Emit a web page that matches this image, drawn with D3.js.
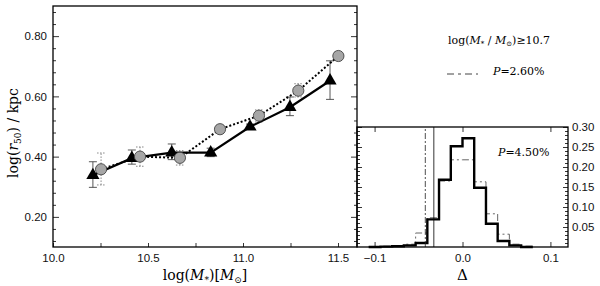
<!DOCTYPE html>
<html>
<head>
<meta charset="utf-8">
<script src="https://cdn.jsdelivr.net/npm/d3@7"></script>
<style>
  body { margin: 0; background: #fff; }
  svg { display: block; }
  .tick text { font-family: "Liberation Sans", Arial, sans-serif; font-size: 11.5px; fill: #111; }
  .serif { font-family: "DejaVu Serif", "Liberation Serif", serif; fill: #000; }
</style>
</head>
<body>
<svg id="chart" width="600" height="286"></svg>
<script>
// left panel: size-mass relation
const massTri = [10.21, 10.415, 10.625, 10.83, 11.037, 11.247, 11.458];
const r50Tri  = [0.338, 0.395, 0.413, 0.413, 0.499, 0.564, 0.652];
const loTri   = [0.298, 0.375, 0.390, 0.400, 0.490, 0.536, 0.590];
const hiTri   = [0.383, 0.422, 0.442, 0.428, 0.508, 0.598, 0.718];

const massCir = [10.253, 10.458, 10.668, 10.879, 11.084, 11.291, 11.502];
const r50Cir  = [0.358, 0.400, 0.396, 0.491, 0.536, 0.619, 0.734];
const loCir   = [0.306, 0.368, 0.372, 0.478, 0.515, 0.598, 0.720];
const hiCir   = [0.412, 0.432, 0.420, 0.504, 0.555, 0.642, 0.748];

// right panel: histogram of Delta
const binEdges = [-0.1067, -0.0933, -0.08, -0.0667, -0.0533, -0.04, -0.0267, -0.0133,
                  0, 0.0133, 0.0267, 0.04, 0.0533, 0.0667, 0.08];
const histSolid  = [0.0, 0.001, 0.002, 0.004, 0.010, 0.069, 0.168, 0.252, 0.272, 0.148, 0.058, 0.015, 0.004, 0.0];
const histDashed = [0.001, 0.002, 0.003, 0.007, 0.035, 0.073, 0.165, 0.218, 0.218, 0.163, 0.083, 0.032, 0.007, 0.002];
const vlineDashDot = -0.0423;
const vlineSolid = -0.0326;

const xTicksL = [10, 10.25, 10.5, 10.75, 11, 11.25, 11.5];
const yTicksL = d3.range(3, 23).map(i => +(i * 0.04).toFixed(2));  // 0.12 ... 0.88
const yTicksR = d3.range(1, 31).map(i => +(i * 0.01).toFixed(2));  // 0.01 ... 0.30
const xTicksR = [-0.1, 0, 0.1];

const svg = d3.select("#chart");

const x1 = d3.scaleLinear().domain([10, 11.6]).range([53, 357]);
const y1 = d3.scaleLinear().domain([0.1, 0.9]).range([247, 6]);
const x2 = d3.scaleLinear().domain([-0.12, 0.12]).range([357, 568]);
const y2 = d3.scaleLinear().domain([0, 0.30]).range([247, 127]);

const isMajor = (v, step) => Math.abs(v / step - Math.round(v / step)) < 1e-6;

function styleAxis(g, majorStep, majorLen, minorLen, sign) {
  g.select(".domain").remove();
  g.selectAll(".tick line")
    .attr("stroke", "#000").attr("stroke-width", 0.8)
    .each(function(d) {
      const len = (isMajor(d, majorStep) ? majorLen : minorLen) * sign;
      const line = d3.select(this);
      if (line.attr("x2") !== null && +line.attr("x2") !== 0) line.attr("x2", len);
      else line.attr("y2", len);
    });
}

// ---- left panel axes ----
svg.append("g")
  .attr("transform", `translate(0,${y1.range()[0]})`)
  .call(d3.axisBottom(x1).tickValues(xTicksL).tickSize(-4).tickPadding(7)
    .tickFormat(d => isMajor(d, 0.5) ? d3.format(".1f")(d) : ""))
  .call(g => g.select(".domain").remove())
  .call(g => g.selectAll(".tick line").attr("stroke", "#000").attr("stroke-width", 0.8));

svg.append("g")
  .attr("transform", `translate(${x1.range()[0]},0)`)
  .call(d3.axisLeft(y1).tickValues(yTicksL).tickSize(-3).tickPadding(6)
    .tickFormat(d => isMajor(d, 0.2) ? d3.format(".2f")(d) : ""))
  .call(g => styleAxis(g, 0.2, 6, 3, 1));

svg.append("g")
  .attr("transform", `translate(${x1.range()[1]},0)`)
  .call(d3.axisRight(y1).tickValues(yTicksL).tickSize(-3).tickFormat(""))
  .call(g => styleAxis(g, 0.2, 6, 3, -1));

// ---- histogram axes ----
svg.append("g")
  .attr("transform", `translate(${x2.range()[0]},0)`)
  .call(d3.axisRight(y2).tickValues(yTicksR).tickSize(3).tickFormat(""))
  .call(g => styleAxis(g, 0.05, 5, 3, 1));

svg.append("g")
  .attr("transform", `translate(${x2.range()[1]},0)`)
  .call(d3.axisRight(y2).tickValues(yTicksR).tickSize(-3).tickPadding(4)
    .tickFormat(d => isMajor(d, 0.05) ? d3.format(".2f")(d) : ""))
  .call(g => styleAxis(g, 0.05, 5, 3, -1))
  .call(g => g.selectAll(".tick text").attr("x", 4).attr("text-anchor", "start"));

svg.append("g")
  .attr("transform", `translate(0,${y2.range()[0]})`)
  .call(d3.axisBottom(x2).tickValues(xTicksR).tickSize(-5).tickPadding(7)
    .tickFormat(d => d === 0 ? "0.0" : d3.format(".1f")(d).replace("-", "\u2212")))
  .call(g => g.select(".domain").remove())
  .call(g => g.selectAll(".tick line").attr("stroke", "#000").attr("stroke-width", 0.8));

svg.append("g")
  .attr("transform", `translate(0,${y2.range()[1]})`)
  .call(d3.axisTop(x2).tickValues(xTicksR).tickSize(-5).tickFormat(""))
  .call(g => g.select(".domain").remove())
  .call(g => g.selectAll(".tick line").attr("stroke", "#000").attr("stroke-width", 0.8));

// ---- histogram curves ----
function stepPoints(vals) {
  const pts = [];
  vals.forEach((v, i) => { pts.push([binEdges[i], v]); pts.push([binEdges[i + 1], v]); });
  return pts;
}
const stepLine = d3.line().x(d => x2(d[0])).y(d => y2(d[1]));

svg.append("path")
  .attr("d", stepLine(stepPoints(histDashed)))
  .attr("fill", "none").attr("stroke", "#666").attr("stroke-width", 1)
  .attr("stroke-dasharray", "7,3,2,3");

svg.append("path")
  .attr("d", stepLine(stepPoints(histSolid)))
  .attr("fill", "none").attr("stroke", "#000").attr("stroke-width", 2.4)
  .attr("stroke-linejoin", "miter");

svg.append("line")
  .attr("x1", x2(vlineDashDot)).attr("x2", x2(vlineDashDot))
  .attr("y1", y2.range()[0]).attr("y2", y2.range()[1])
  .attr("stroke", "#222").attr("stroke-width", 0.8).attr("stroke-dasharray", "6,2,2,2");

svg.append("line")
  .attr("x1", x2(vlineSolid)).attr("x2", x2(vlineSolid))
  .attr("y1", y2.range()[0]).attr("y2", y2.range()[1])
  .attr("stroke", "#000").attr("stroke-width", 0.8);

// ---- left panel data ----
const tri = massTri.map((m, i) => ({ m, r: r50Tri[i], lo: loTri[i], hi: hiTri[i] }));
const cir = massCir.map((m, i) => ({ m, r: r50Cir[i], lo: loCir[i], hi: hiCir[i] }));

function errorBars(data, stroke, dash, width) {
  const g = svg.append("g").attr("stroke", stroke).attr("stroke-width", width)
    .attr("stroke-dasharray", dash);
  g.selectAll(".eb").data(data).join("path")
    .attr("fill", "none")
    .attr("d", d => {
      const x = x1(d.m), a = y1(d.lo), b = y1(d.hi);
      return `M${x - 4},${a}H${x + 4}M${x},${a}V${b}M${x - 4},${b}H${x + 4}`;
    });
}
errorBars(tri, "#444", null, 0.9);
errorBars(cir, "#888", "1.5,1.5", 1);

const pline = d3.line().x(d => x1(d.m)).y(d => y1(d.r));
svg.append("path").attr("d", pline(cir))
  .attr("fill", "none").attr("stroke", "#000").attr("stroke-width", 2)
  .attr("stroke-dasharray", "2,2");
svg.append("path").attr("d", pline(tri))
  .attr("fill", "none").attr("stroke", "#000").attr("stroke-width", 2.2);

svg.selectAll(".tri").data(tri).join("path")
  .attr("transform", d => `translate(${x1(d.m)},${y1(d.r)})`)
  .attr("d", d3.symbol(d3.symbolTriangle, 75))
  .attr("fill", "#000");

svg.selectAll(".cir").data(cir).join("circle")
  .attr("cx", d => x1(d.m)).attr("cy", d => y1(d.r)).attr("r", 5.6)
  .attr("fill", "#a6a6a6").attr("stroke", "#444").attr("stroke-width", 0.9);

// ---- frames ----
svg.append("rect")
  .attr("x", x1.range()[0]).attr("y", y1.range()[1])
  .attr("width", x1.range()[1] - x1.range()[0]).attr("height", y1.range()[0] - y1.range()[1])
  .attr("fill", "none").attr("stroke", "#000").attr("stroke-width", 1.3);
svg.append("rect")
  .attr("x", x2.range()[0]).attr("y", y2.range()[1])
  .attr("width", x2.range()[1] - x2.range()[0]).attr("height", y2.range()[0] - y2.range()[1])
  .attr("fill", "none").attr("stroke", "#000").attr("stroke-width", 1.3);

// ---- titles and annotations ----
const xt = svg.append("text").attr("class", "serif").attr("font-size", 14)
  .attr("x", 205).attr("y", 280).attr("text-anchor", "middle");
xt.append("tspan").text("log(");
xt.append("tspan").attr("font-style", "italic").text("M");
xt.append("tspan").attr("font-size", 9).attr("dy", 3).text("*");
xt.append("tspan").attr("dy", -3).text(")[");
xt.append("tspan").attr("font-style", "italic").text("M");
xt.append("tspan").attr("font-size", 9).attr("dy", 3).text("\u2299");
xt.append("tspan").attr("dy", -3).text("]");

const yt = svg.append("text").attr("class", "serif").attr("font-size", 14)
  .attr("transform", "translate(18,133) rotate(-90)").attr("text-anchor", "middle");
yt.append("tspan").text("log(");
yt.append("tspan").attr("font-style", "italic").text("r");
yt.append("tspan").attr("font-size", 9).attr("dy", 3).text("50");
yt.append("tspan").attr("dy", -3).text(") / kpc");

svg.append("text").attr("class", "serif").attr("font-size", 15)
  .attr("x", x2(0)).attr("y", 280).attr("text-anchor", "middle").text("\u0394");

const lg = svg.append("text").attr("class", "serif").attr("font-size", 11)
  .attr("x", 448).attr("y", 44);
lg.append("tspan").text("log(");
lg.append("tspan").attr("font-style", "italic").text("M");
lg.append("tspan").attr("font-size", 7).attr("dy", 2).text("*");
lg.append("tspan").attr("dy", -2).text(" / ");
lg.append("tspan").attr("font-style", "italic").text("M");
lg.append("tspan").attr("font-size", 7).attr("dy", 2).text("\u2299");
lg.append("tspan").attr("dy", -2).text(")\u226510.7");

svg.append("line").attr("x1", 447).attr("x2", 478).attr("y1", 74).attr("y2", 74)
  .attr("stroke", "#444").attr("stroke-width", 1).attr("stroke-dasharray", "7,4,3,4");

function pLabel(x, y, txt) {
  const t = svg.append("text").attr("class", "serif").attr("font-size", 11).attr("x", x).attr("y", y);
  t.append("tspan").attr("font-style", "italic").text("P");
  t.append("tspan").text("=" + txt);
}
pLabel(493, 75, "2.60%");
pLabel(498, 156, "4.50%");
</script>
</body>
</html>
